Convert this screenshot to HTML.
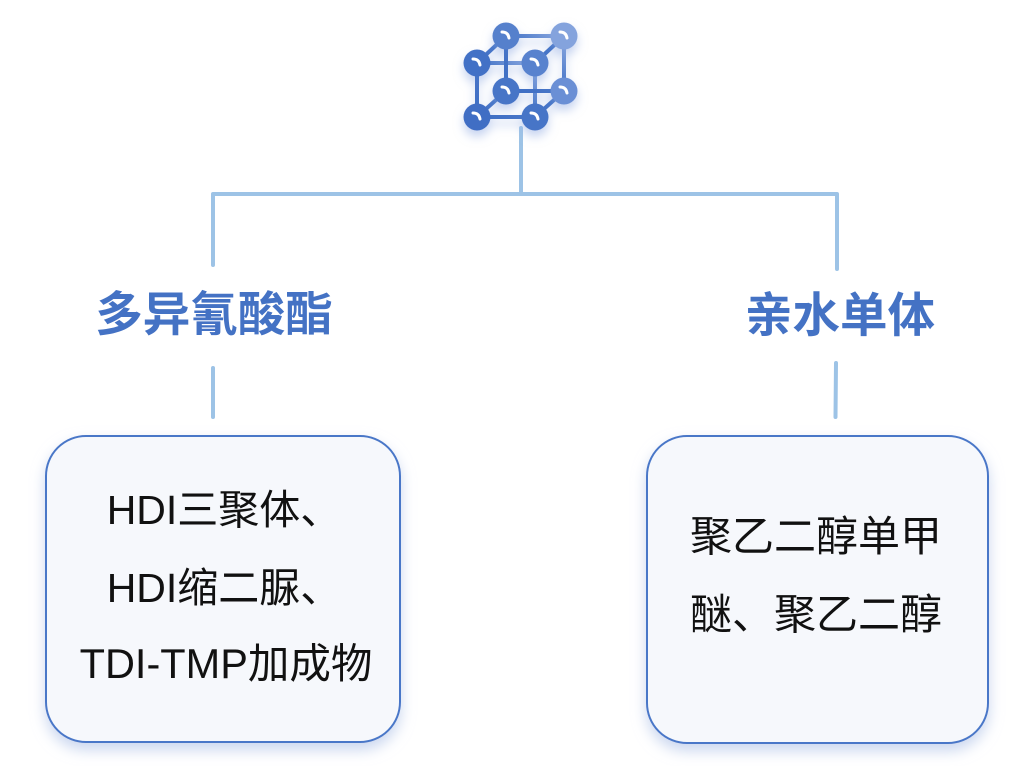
<!DOCTYPE html>
<html>
<head>
<meta charset="utf-8">
<style>
  html,body{margin:0;padding:0;background:#ffffff;}
  body{width:1028px;height:766px;overflow:hidden;position:relative;}
  svg{position:absolute;left:0;top:0;}
  .lbl{font-family:"Liberation Sans","Noto Sans CJK SC",sans-serif;font-weight:bold;fill:#4472c4;}
  .bt{font-family:"Liberation Sans","Noto Sans CJK SC",sans-serif;fill:#111111;}
</style>
</head>
<body>
<svg width="1028" height="766" viewBox="0 0 1028 766" xmlns="http://www.w3.org/2000/svg">
  <defs>
    <filter id="sh" x="-20%" y="-20%" width="140%" height="150%">
      <feDropShadow dx="0" dy="7" stdDeviation="7" flood-color="#b9c9ea" flood-opacity="0.75"/>
    </filter>
    <filter id="ish" x="-30%" y="-30%" width="160%" height="170%">
      <feDropShadow dx="0" dy="6" stdDeviation="5" flood-color="#9fb6e6" flood-opacity="0.6"/>
    </filter>
    <linearGradient id="cg" x1="0" y1="1" x2="1" y2="0">
      <stop offset="0" stop-color="#3d6cc3"/>
      <stop offset="0.55" stop-color="#4a78c9"/>
      <stop offset="1" stop-color="#8ba8df"/>
    </linearGradient>
  </defs>

  <!-- connectors -->
  <g stroke="#9dc3e6" stroke-width="4" stroke-linecap="round" stroke-linejoin="round" fill="none">
    <line x1="521" y1="128" x2="521" y2="194"/>
    <polyline points="213,265 213,194 837,194 837,269"/>
    <line x1="213" y1="368" x2="213" y2="417"/>
    <line x1="836" y1="363" x2="835.5" y2="417"/>
  </g>

  <!-- icon -->
  <g filter="url(#ish)">
    <g stroke="url(#cg)" stroke-width="4" fill="none" stroke-linecap="round">
      <rect x="477" y="63" width="58" height="54"/>
      <rect x="506" y="36" width="58" height="55"/>
      <line x1="477" y1="63" x2="506" y2="36"/>
      <line x1="535" y1="63" x2="564" y2="36"/>
      <line x1="477" y1="117" x2="506" y2="91"/>
      <line x1="535" y1="117" x2="564" y2="91"/>
    </g>
    <g>
      <circle cx="506" cy="36" r="13.5" fill="#5580cc"/>
      <circle cx="564" cy="36" r="13.5" fill="#84a3dd"/>
      <circle cx="506" cy="91" r="13.5" fill="#4674c7"/>
      <circle cx="564" cy="91" r="13.5" fill="#6a8fd5"/>
      <circle cx="477" cy="63" r="13.5" fill="#4271c6"/>
      <circle cx="535" cy="63" r="13.5" fill="#5882ce"/>
      <circle cx="477" cy="117" r="13.5" fill="#3f6ec4"/>
      <circle cx="535" cy="117" r="13.5" fill="#4674c7"/>
    </g>
    <g stroke="#ffffff" stroke-width="3" fill="none" stroke-linecap="round">
      <path d="M502 32 q6 0 7 6"/>
      <path d="M560 32 q6 0 7 6"/>
      <path d="M502 87 q6 0 7 6"/>
      <path d="M560 87 q6 0 7 6"/>
      <path d="M473 59 q6 0 7 6"/>
      <path d="M531 59 q6 0 7 6"/>
      <path d="M473 113 q6 0 7 6"/>
      <path d="M531 113 q6 0 7 6"/>
    </g>
  </g>

  <!-- labels -->
  <text class="lbl" x="214" y="331" font-size="47.5" text-anchor="middle">多异氰酸酯</text>
  <text class="lbl" x="840" y="332" font-size="47.5" text-anchor="middle">亲水单体</text>

  <!-- boxes -->
  <rect x="46" y="436" width="354" height="306" rx="40" ry="40" fill="#f6f8fc" stroke="#4a77c8" stroke-width="2" filter="url(#sh)"/>
  <rect x="647" y="436" width="341" height="307" rx="40" ry="40" fill="#f6f8fc" stroke="#4a77c8" stroke-width="2" filter="url(#sh)"/>

  <!-- box text -->
  <text class="bt" x="224" y="524" font-size="41" text-anchor="middle">HDI三聚体、</text>
  <text class="bt" x="224" y="602" font-size="41" text-anchor="middle">HDI缩二脲、</text>
  <text class="bt" x="226" y="678" font-size="41.5" text-anchor="middle">TDI-TMP加成物</text>

  <text class="bt" x="816" y="551" font-size="42" text-anchor="middle">聚乙二醇单甲</text>
  <text class="bt" x="816" y="629" font-size="42" text-anchor="middle">醚、聚乙二醇</text>
</svg>
</body>
</html>
